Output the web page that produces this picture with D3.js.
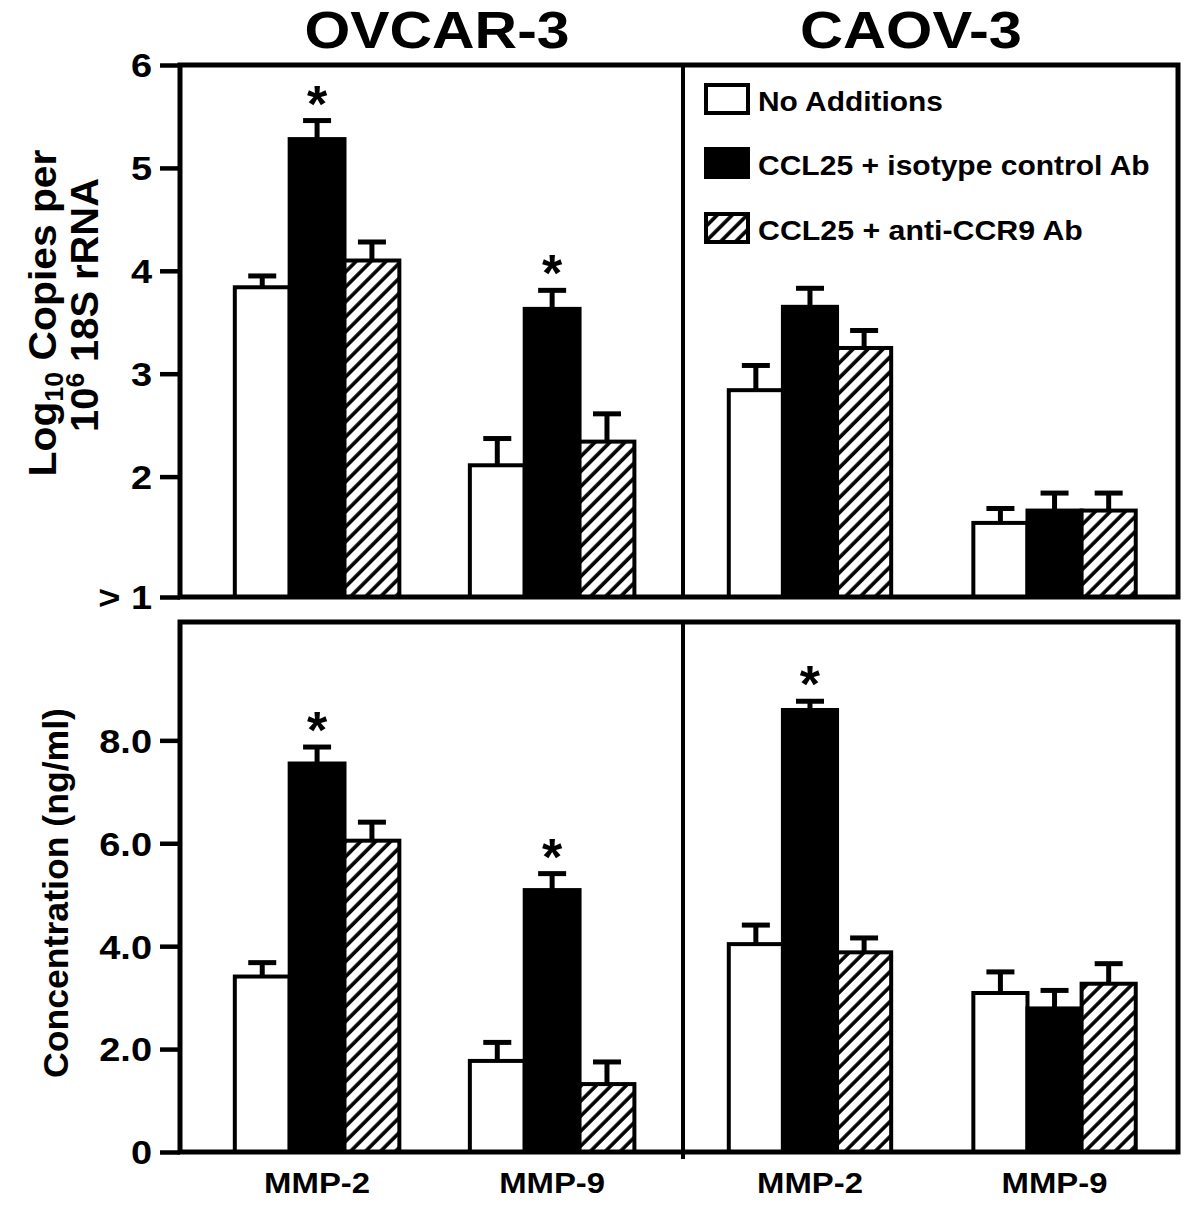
<!DOCTYPE html>
<html><head><meta charset="utf-8">
<script src="https://cdn.jsdelivr.net/npm/d3@7"></script>
<style>
body{margin:0;background:#fff;}
text{font-family:"Liberation Sans", Arial, Helvetica, sans-serif;font-weight:bold;fill:#000;}
</style>
</head><body>
<svg id="chart" width="1200" height="1207"></svg>
<script>
// ---------- DATA ----------
const cellLines = ["OVCAR-3", "CAOV-3"];
const genes = ["MMP-2", "MMP-9"];
const treatments = ["No Additions", "CCL25 + isotype control Ab", "CCL25 + anti-CCR9 Ab"];

// Top row: Log10 copies per 10^6 18S rRNA  (rows = genes, cols = treatments)
const mrnaOvcarMean = [[3.84, 5.28, 4.10], [2.11, 3.63, 2.34]];
const mrnaOvcarErr  = [[0.11, 0.18, 0.18], [0.26, 0.18, 0.27]];
const mrnaOvcarSig  = [[0, 1, 0], [0, 1, 0]];
const mrnaCaovMean  = [[2.84, 3.65, 3.25], [1.55, 1.67, 1.67]];
const mrnaCaovErr   = [[0.24, 0.18, 0.17], [0.14, 0.17, 0.17]];
const mrnaCaovSig   = [[0, 0, 0], [0, 0, 0]];

// Bottom row: concentration (ng/ml)
const protOvcarMean = [[3.41, 7.55, 6.05], [1.77, 5.09, 1.32]];
const protOvcarErr  = [[0.27, 0.32, 0.36], [0.36, 0.32, 0.43]];
const protOvcarSig  = [[0, 1, 0], [0, 1, 0]];
const protCaovMean  = [[4.04, 8.59, 3.88], [3.09, 2.79, 3.27]];
const protCaovErr   = [[0.37, 0.17, 0.28], [0.41, 0.35, 0.39]];
const protCaovSig   = [[0, 1, 0], [0, 0, 0]];

// Axis ticks
const mrnaFloor = 0.83;   // bottom of the log axis, labelled "> 1"
const mrnaTop = 6;
const mrnaTicks = [mrnaFloor, 2, 3, 4, 5, 6];
const mrnaTickLabels = ["> 1", "2", "3", "4", "5", "6"];
const protTop = 10.3;
const protTicks = [0, 2, 4, 6, 8];
const protTickLabels = ["0", "2.0", "4.0", "6.0", "8.0"];

// ---------- LAYOUT ----------
const svg = d3.select("#chart");
const frameL = 180, frameR = 1178, divX = 683;
const rows = [
  {y0: 65,  y1: 597,  domain: [mrnaFloor, mrnaTop], ticks: mrnaTicks, labels: mrnaTickLabels,
   data: [[mrnaOvcarMean, mrnaOvcarErr, mrnaOvcarSig], [mrnaCaovMean, mrnaCaovErr, mrnaCaovSig]]},
  {y0: 622, y1: 1152, domain: [0, protTop], ticks: protTicks, labels: protTickLabels,
   data: [[protOvcarMean, protOvcarErr, protOvcarSig], [protCaovMean, protCaovErr, protCaovSig]]}
];
const panelRange = d3.scaleOrdinal().domain(cellLines).range([[frameL, divX], [divX, frameR]]);
const panelPadInner = [0.30, 0.336], panelPadOuter = [0.22, 0.18], panelAlign = [0.53, 0.52];
const fills = d3.scaleOrdinal().domain(treatments).range(["#fff", "#000", "url(#hatch)"]);

// hatch pattern
const defs = svg.append("defs");
const pat = defs.append("pattern").attr("id", "hatch").attr("patternUnits", "userSpaceOnUse")
  .attr("width", 10.6).attr("height", 10.6).attr("patternTransform", "rotate(45)");
pat.append("rect").attr("width", 10.6).attr("height", 10.6).attr("fill", "#fff");
pat.append("line").attr("x1", 2).attr("y1", 0).attr("x2", 2).attr("y2", 10.6)
  .attr("stroke", "#000").attr("stroke-width", 3.6);

// helper: text stretched to a target width
function fitText(parent, str, x, y, size, width, anchor, rot) {
  const t = parent.append("text").attr("font-size", size).attr("text-anchor", anchor).text(str);
  const nat = t.node().getComputedTextLength();
  const k = width / nat;
  t.attr("transform", `translate(${x},${y}) rotate(${rot || 0}) scale(${k},1)`);
  return t;
}

rows.forEach((row, ri) => {
  const y = d3.scaleLinear().domain(row.domain).range([row.y1, row.y0]);
  const base = row.domain[0];

  cellLines.forEach((cl, ci) => {
    const [a, b] = panelRange(cl);
    const gx = d3.scaleBand().domain(genes).range([a, b])
      .paddingInner(panelPadInner[ci]).paddingOuter(panelPadOuter[ci]).align(panelAlign[ci]);
    const tx = d3.scaleBand().domain(treatments).range([0, gx.bandwidth()]);
    const [means, errs, sigs] = row.data[ci];
    const recs = [];
    genes.forEach((g, gi) => treatments.forEach((t, ti) => recs.push({
      g, t, m: means[gi][ti], e: errs[gi][ti], s: sigs[gi][ti]
    })));
    const p = svg.append("g");
    // bars
    p.selectAll("rect.bar").data(recs).join("rect").attr("class", "bar")
      .attr("x", d => gx(d.g) + tx(d.t)).attr("width", tx.bandwidth())
      .attr("y", d => y(d.m)).attr("height", d => y(base) - y(d.m))
      .attr("fill", d => fills(d.t)).attr("stroke", "#000").attr("stroke-width", 4);
    // error bars
    const cx = d => gx(d.g) + tx(d.t) + tx.bandwidth() / 2;
    p.selectAll("line.ev").data(recs).join("line").attr("class", "ev")
      .attr("x1", cx).attr("x2", cx).attr("y1", d => y(d.m)).attr("y2", d => y(d.m + d.e))
      .attr("stroke", "#000").attr("stroke-width", 5);
    p.selectAll("line.cap").data(recs).join("line").attr("class", "cap")
      .attr("x1", d => cx(d) - 14).attr("x2", d => cx(d) + 14)
      .attr("y1", d => y(d.m + d.e)).attr("y2", d => y(d.m + d.e))
      .attr("stroke", "#000").attr("stroke-width", 5);
    // asterisks
    p.selectAll("text.sig").data(recs.filter(d => d.s)).join("text").attr("class", "sig")
      .attr("x", cx).attr("y", d => y(d.m + d.e) + 1)
      .attr("text-anchor", "middle").attr("font-size", 52).text("*");
    // x labels on bottom row
    if (ri === 1) {
      genes.forEach(g => fitText(svg, g, gx(g) + gx.bandwidth() / 2, 1193, 29, 106, "middle"));
    }
    // titles on top row
    if (ri === 0) {
      const titleW = [265, 222][ci];
      const titleX = [437, 911][ci];
      fitText(svg, cl, titleX, 48, 51, titleW, "middle");
    }
  });

  // frame
  svg.append("rect").attr("x", frameL).attr("y", row.y0).attr("width", frameR - frameL)
    .attr("height", row.y1 - row.y0).attr("fill", "none").attr("stroke", "#000").attr("stroke-width", 5);
  svg.append("line").attr("x1", divX).attr("x2", divX).attr("y1", row.y0)
    .attr("y2", ri === 1 ? row.y1 + 7 : row.y1).attr("stroke", "#000").attr("stroke-width", 4);

  // y axis
  const ax = svg.append("g").attr("transform", `translate(${frameL},0)`)
    .call(d3.axisLeft(y).tickValues(row.ticks).tickSize(20).tickPadding(0)
      .tickFormat((d, i) => row.labels[i]));
  ax.select(".domain").remove();
  ax.selectAll(".tick line").attr("stroke", "#000").attr("stroke-width", 4.5);
  ax.selectAll(".tick text").attr("font-size", 33).attr("font-family", null)
    .attr("x", null).attr("dy", "0.36em")
    .attr("transform", "translate(-28,0) scale(1.15,1)");
});
svg.selectAll(".tick text").style("font-family", '"Liberation Sans", Arial, sans-serif').style("font-weight", "bold");

// y axis titles
const yl1 = svg.append("text").attr("font-size", 38).attr("text-anchor", "middle");
yl1.append("tspan").text("Log");
yl1.append("tspan").attr("font-size", 25).attr("dy", 7).text("10");
yl1.append("tspan").attr("dy", -7).text(" Copies per");
let nat = yl1.node().getComputedTextLength();
yl1.attr("transform", `translate(56,313) rotate(-90) scale(${327 / nat},1)`);

const yl2 = svg.append("text").attr("font-size", 38).attr("text-anchor", "middle");
yl2.append("tspan").text("10");
yl2.append("tspan").attr("font-size", 25).attr("dy", -14).text("6");
yl2.append("tspan").attr("dy", 14).text(" 18S rRNA");
nat = yl2.node().getComputedTextLength();
yl2.attr("transform", `translate(98,305) rotate(-90) scale(${254 / nat},1)`);

fitText(svg, "Concentration (ng/ml)", 68, 893, 36, 370, "middle", -90);

// legend
const leg = svg.append("g");
const legTop = [85, 149, 214];
const legW = [185, 392, 325];
treatments.forEach((t, i) => {
  leg.append("rect").attr("x", 706).attr("y", legTop[i]).attr("width", 42).attr("height", 28)
    .attr("fill", fills(t)).attr("stroke", "#000").attr("stroke-width", 4);
  fitText(leg, t, 758, legTop[i] + 26, 28, legW[i], "start");
});
</script>
</body></html>
